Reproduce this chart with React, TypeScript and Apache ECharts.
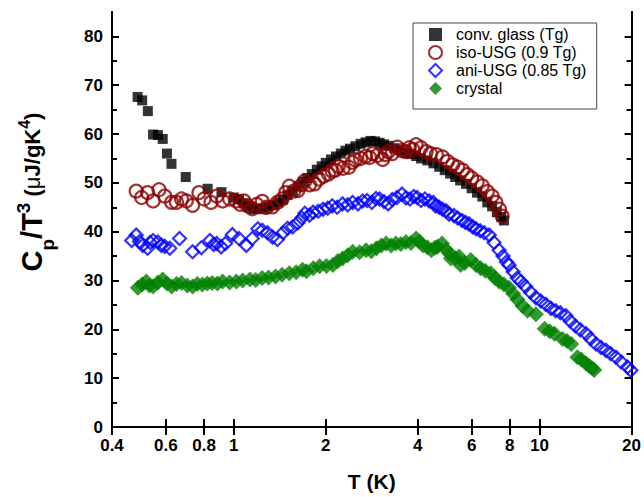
import React, { useEffect, useRef } from 'react';
import * as echarts from 'echarts';

const xTicks = [0.4, 0.6, 0.8, 1, 2, 4, 6, 8, 10, 20];
const yMajor = [0, 10, 20, 30, 40, 50, 60, 70, 80];
const yMinor = [5, 15, 25, 35, 45, 55, 65, 75];

const seriesNames = ['conv. glass (Tg)', 'iso-USG (0.9 Tg)', 'ani-USG (0.85 Tg)', 'crystal'];

const convGlass: [number, number][] = [
  [0.485, 67.6], [0.502, 66.9], [0.524, 64.7], [0.545, 59.9], [0.565, 59.8], [0.586, 59.0], [0.605, 56.0],
  [0.626, 53.9], [0.697, 51.2], [0.822, 48.8], [0.912, 48.1], [1.0, 47.0], [1.04, 46.6], [1.08, 45.8],
  [1.12, 45.2], [1.16, 44.6], [1.2, 44.8], [1.25, 44.6], [1.3, 45.2], [1.35, 45.4], [1.4, 46.0], [1.45, 46.6],
  [1.5, 47.5], [1.56, 48.3], [1.62, 49.3], [1.68, 50.2], [1.74, 51.0], [1.8, 51.8], [1.87, 52.7], [1.94, 53.4],
  [2.0, 54.1], [2.08, 54.8], [2.16, 55.4], [2.24, 56.0], [2.32, 56.6], [2.4, 57.0], [2.5, 57.5], [2.6, 58.0],
  [2.7, 58.3], [2.8, 58.6], [2.9, 58.5], [3.0, 58.2], [3.1, 57.9], [3.2, 57.6], [3.35, 57.1], [3.5, 56.7],
  [3.65, 56.2], [3.8, 55.9], [3.95, 55.5], [4.1, 55.0], [4.3, 54.6], [4.5, 54.0], [4.7, 53.3], [4.9, 52.6],
  [5.1, 51.9], [5.3, 51.2], [5.5, 50.5], [5.75, 49.8], [6.0, 48.9], [6.25, 48.0], [6.5, 47.2], [6.75, 46.0],
  [7.0, 45.2], [7.25, 44.0], [7.5, 43.0], [7.65, 42.3],
];

const isoUSG: [number, number][] = [
  [0.48, 48.3], [0.5, 47.0], [0.523, 48.0], [0.545, 46.3], [0.57, 48.6], [0.595, 47.3], [0.627, 46.0],
  [0.65, 46.0], [0.675, 46.7], [0.7, 46.3], [0.734, 45.4], [0.77, 48.0], [0.8, 46.7], [0.843, 46.0],
  [0.88, 47.3], [0.92, 46.3], [0.97, 46.7], [1.02, 46.3], [1.05, 45.6], [1.08, 46.3], [1.11, 45.3],
  [1.15, 44.7], [1.19, 45.6], [1.24, 46.2], [1.28, 45.0], [1.34, 45.1], [1.39, 46.0], [1.44, 46.7],
  [1.48, 48.0], [1.52, 49.3], [1.57, 48.3], [1.62, 48.4], [1.67, 49.6], [1.71, 50.4], [1.77, 49.6],
  [1.84, 49.8], [1.9, 50.8], [1.97, 51.4], [2.04, 51.8], [2.1, 52.4], [2.15, 52.6], [2.2, 53.4], [2.28, 53.0],
  [2.38, 53.2], [2.44, 54.2], [2.5, 54.7], [2.6, 55.0], [2.7, 55.4], [2.78, 55.2], [2.85, 56.0], [2.95, 55.6],
  [3.07, 54.8], [3.13, 55.8], [3.2, 56.4], [3.3, 56.0], [3.43, 57.3], [3.55, 56.6], [3.65, 56.4], [3.75, 57.2],
  [3.85, 56.8], [3.95, 57.8], [4.1, 57.2], [4.26, 56.4], [4.4, 56.0], [4.6, 55.8], [4.82, 55.3], [5.0, 54.4],
  [5.2, 53.7], [5.4, 53.2], [5.6, 52.6], [5.8, 51.7], [6.0, 51.0], [6.25, 50.2], [6.5, 49.4], [6.75, 48.2],
  [7.0, 47.3], [7.2, 46.0], [7.4, 44.6], [7.55, 43.2],
];

const aniUSG: [number, number][] = [
  [0.464, 38.2], [0.48, 39.3], [0.492, 38.0], [0.504, 37.2], [0.523, 36.6], [0.533, 37.8], [0.545, 38.2],
  [0.565, 37.9], [0.58, 37.2], [0.595, 37.0], [0.618, 36.6], [0.665, 38.6], [0.734, 35.9], [0.784, 36.7],
  [0.836, 38.2], [0.86, 37.4], [0.88, 37.6], [0.91, 36.9], [0.94, 37.6], [0.99, 39.4], [1.04, 38.6],
  [1.1, 37.2], [1.15, 38.6], [1.2, 40.6], [1.24, 40.3], [1.29, 39.8], [1.34, 38.9], [1.39, 38.4], [1.45, 39.8],
  [1.5, 40.7], [1.56, 41.0], [1.62, 41.8], [1.67, 42.8], [1.71, 43.8], [1.77, 43.4], [1.82, 44.0], [1.89, 44.2],
  [1.96, 44.6], [2.03, 44.8], [2.1, 45.3], [2.18, 45.0], [2.27, 45.7], [2.36, 45.5], [2.45, 46.0], [2.55, 45.7],
  [2.64, 46.3], [2.73, 46.4], [2.83, 46.0], [2.92, 46.8], [3.0, 46.7], [3.1, 46.2], [3.2, 45.7], [3.3, 46.6],
  [3.42, 47.0], [3.55, 47.7], [3.66, 46.9], [3.77, 46.7], [3.88, 47.2], [3.98, 47.0], [4.1, 46.4], [4.22, 46.7],
  [4.36, 46.3], [4.5, 46.0], [4.57, 45.3], [4.7, 45.0], [4.82, 44.6], [4.95, 44.3], [5.06, 43.6], [5.25, 43.3],
  [5.4, 42.8], [5.58, 42.3], [5.73, 41.9], [5.88, 41.6], [6.05, 41.0], [6.2, 40.6], [6.4, 40.2], [6.6, 39.8],
  [6.85, 39.3], [7.1, 37.8], [7.38, 36.2], [7.6, 35.0], [7.8, 33.8], [7.95, 33.2], [8.2, 31.8], [8.46, 30.5],
  [8.7, 29.8], [9.0, 28.8], [9.35, 27.6], [9.73, 26.5], [10.1, 25.8], [10.5, 25.1], [10.9, 24.3], [11.3, 23.8],
  [11.7, 23.4], [12.2, 22.8], [12.6, 21.7], [13.1, 20.7], [13.6, 19.9], [14.2, 19.1], [14.7, 18.1], [15.3, 17.0],
  [15.9, 16.3], [16.5, 15.7], [17.1, 15.0], [17.8, 14.3], [18.5, 13.3], [19.4, 12.3], [19.9, 11.6],
];

const crystal: [number, number][] = [
  [0.486, 28.5], [0.502, 29.2], [0.518, 29.8], [0.53, 29.0], [0.545, 28.8], [0.565, 29.6], [0.586, 30.2],
  [0.605, 29.4], [0.627, 28.8], [0.65, 29.3], [0.675, 29.5], [0.705, 29.0], [0.734, 28.8], [0.76, 29.3],
  [0.79, 29.2], [0.82, 29.4], [0.85, 29.5], [0.885, 29.4], [0.92, 29.8], [0.97, 29.6], [1.02, 29.8],
  [1.07, 30.0], [1.13, 30.2], [1.18, 30.1], [1.24, 30.5], [1.3, 30.6], [1.37, 30.8], [1.44, 31.2], [1.52, 31.5],
  [1.6, 31.7], [1.68, 32.2], [1.73, 31.9], [1.82, 32.5], [1.91, 32.9], [2.01, 33.0], [2.11, 33.2], [2.19, 34.0],
  [2.27, 34.5], [2.36, 35.2], [2.45, 35.9], [2.58, 35.8], [2.71, 36.2], [2.82, 36.0], [2.93, 36.6], [3.04, 37.2],
  [3.15, 37.6], [3.27, 37.2], [3.39, 37.6], [3.52, 37.5], [3.66, 37.9], [3.8, 37.7], [3.95, 38.6], [4.05, 38.0],
  [4.16, 37.2], [4.3, 36.8], [4.43, 36.2], [4.55, 36.7], [4.64, 36.9], [4.8, 37.6], [4.95, 36.3], [5.07, 35.6],
  [5.13, 34.5], [5.3, 34.6], [5.46, 34.9], [5.52, 33.2], [5.7, 33.6], [5.96, 34.2], [6.2, 33.2], [6.42, 32.5],
  [6.65, 32.0], [6.93, 31.5], [7.15, 30.5], [7.38, 29.8], [7.65, 29.2], [7.95, 28.5], [8.2, 27.3], [8.47, 26.1],
  [8.8, 24.8], [9.14, 23.8], [9.73, 23.1], [10.4, 20.1], [10.8, 19.6], [11.2, 19.1], [11.9, 18.0], [12.3, 17.6],
  [12.7, 17.0], [13.3, 14.3], [13.7, 13.8], [14.2, 13.0], [14.6, 12.4], [14.9, 12.0], [15.1, 11.7],
];

const FONT = 'Liberation Sans, Arial, Helvetica, sans-serif';

export default function App() {
  const ref = useRef<HTMLDivElement>(null);
  useEffect(() => {
    const chart = echarts.init(ref.current!, null, { renderer: 'svg' });
    const line = { show: true, lineStyle: { color: '#000', width: 2 } };
    const labelStyle = { fontSize: 17, fontWeight: 'bold', color: '#000', fontFamily: FONT };
    const xCommon = {
      type: 'log', logBase: 10, min: 0.4, max: 20, gridIndex: 0,
      splitLine: { show: false }, minorTick: { show: false }, minorSplitLine: { show: false },
      axisLine: line,
    };
    const yCommon = {
      type: 'value', min: 0, max: 85, gridIndex: 0,
      splitLine: { show: false }, axisLine: line,
    };
    chart.setOption({
      animation: false,
      backgroundColor: '#fff',
      grid: { left: 112, right: 11, top: 12, bottom: 66, containLabel: false },
      xAxis: [
        {
          ...xCommon, position: 'bottom',
          axisTick: { show: true, inside: true, length: 8, customValues: xTicks, lineStyle: { color: '#000', width: 2 } },
          axisLabel: {
            ...labelStyle, margin: 10, customValues: xTicks,
            formatter: (v: number) => String(parseFloat(Number(v).toPrecision(3))),
          },
          name: 'T (K)', nameLocation: 'middle', nameGap: 44,
          nameTextStyle: { fontSize: 21, fontWeight: 'bold', color: '#000', fontFamily: FONT },
        },
        {
          ...xCommon, position: 'top',
          axisTick: { show: true, inside: true, length: 8, customValues: xTicks, lineStyle: { color: '#000', width: 2 } },
          axisLabel: { show: false },
        },
      ],
      yAxis: [
        {
          ...yCommon, position: 'left',
          axisTick: { show: true, inside: true, length: 7, customValues: yMajor, lineStyle: { color: '#000', width: 2 } },
          axisLabel: { ...labelStyle, margin: 9, customValues: yMajor },
        },
        {
          ...yCommon, position: 'left',
          axisTick: { show: true, inside: true, length: 5, customValues: yMinor, lineStyle: { color: '#000', width: 2 } },
          axisLabel: { show: false },
        },
        {
          ...yCommon, position: 'right',
          axisTick: { show: true, inside: true, length: 7, customValues: yMajor, lineStyle: { color: '#000', width: 2 } },
          axisLabel: { show: false },
        },
        {
          ...yCommon, position: 'right',
          axisTick: { show: true, inside: true, length: 5, customValues: yMinor, lineStyle: { color: '#000', width: 2 } },
          axisLabel: { show: false },
        },
      ],
      legend: {
        orient: 'vertical', left: 413, top: 23,
        padding: [3, 10, 12, 15],
        itemWidth: 13, itemHeight: 13, itemGap: 1,
        symbolKeepAspect: true,
        borderColor: '#444', borderWidth: 1, borderRadius: 0,
        textStyle: { fontSize: 16, color: '#000', fontFamily: FONT, lineHeight: 17, padding: [0, 0, 0, 9] },
        data: seriesNames,
      },
      graphic: [
        {
          type: 'text', x: 32, y: 192, rotation: Math.PI / 2,
          style: {
            text: '{b|C}{s|p}{b|/T}{u|3}{m| (}{g|μ}{m|J/gK}{v|4}{m|)}',
            align: 'center', verticalAlign: 'middle',
            rich: {
              b: { fontSize: 29, fontWeight: 'bold', fontFamily: FONT, fill: '#000', lineHeight: 50 },
              s: { fontSize: 19, fontWeight: 'bold', fontFamily: FONT, fill: '#000', lineHeight: 16, verticalAlign: 'bottom' },
              u: { fontSize: 19, fontWeight: 'bold', fontFamily: FONT, fill: '#000', verticalAlign: 'top', padding: [7, 0, 0, 0] },
              m: { fontSize: 22, fontWeight: 'bold', fontFamily: FONT, fill: '#000', lineHeight: 50 },
              g: { fontSize: 22, fontFamily: FONT, fill: '#000', lineHeight: 50 },
              v: { fontSize: 16, fontWeight: 'bold', fontFamily: FONT, fill: '#000', verticalAlign: 'top', padding: [9, 0, 0, 0] },
            },
          },
        },
      ],
      series: [
        {
          name: seriesNames[0], type: 'scatter', xAxisIndex: 0, yAxisIndex: 0, data: convGlass,
          symbol: 'rect', symbolSize: 10, itemStyle: { color: '#000' },
        },
        {
          name: seriesNames[1], type: 'scatter', xAxisIndex: 0, yAxisIndex: 0, data: isoUSG,
          symbol: 'circle', symbolSize: 13,
          itemStyle: { color: 'rgba(0,0,0,0)', borderColor: '#8B0000', borderWidth: 2.2 },
        },
        {
          name: seriesNames[2], type: 'scatter', xAxisIndex: 0, yAxisIndex: 0, data: aniUSG,
          symbol: 'diamond', symbolSize: 13,
          itemStyle: { color: 'rgba(0,0,0,0)', borderColor: '#0000FF', borderWidth: 2.2 },
        },
        {
          name: seriesNames[3], type: 'scatter', xAxisIndex: 0, yAxisIndex: 0, data: crystal,
          symbol: 'diamond', symbolSize: 16, itemStyle: { color: '#008000' },
        },
      ],
    });
    return () => chart.dispose();
  }, []);
  return <div ref={ref} style={{ position: 'fixed', left: 0, top: 0, width: 644, height: 497 }} />;
}
